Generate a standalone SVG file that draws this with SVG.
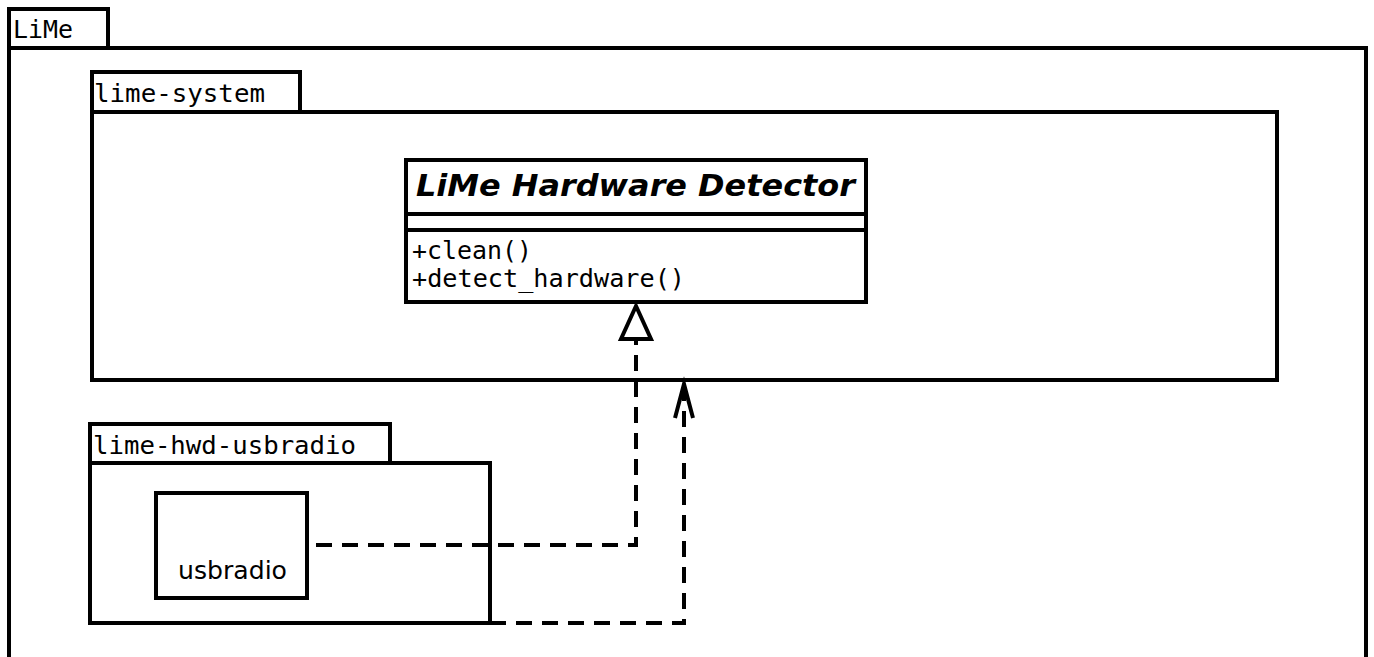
<svg xmlns="http://www.w3.org/2000/svg" width="1374" height="657" viewBox="0 0 1374 657">
<style>
.box{fill:#fff;stroke:#000;stroke-width:4}
.mono{font-family:"DejaVu Sans Mono","Liberation Mono",monospace;font-size:25px;fill:#000}
.sans{font-family:"DejaVu Sans","Liberation Sans",sans-serif;font-size:25px;fill:#000}
.title{font-family:"DejaVu Sans","Liberation Sans",sans-serif;font-size:30px;font-weight:bold;font-style:italic;fill:#000}
.dash{fill:none;stroke:#000;stroke-width:4;stroke-dasharray:16 10}
.solid{fill:none;stroke:#000;stroke-width:4}
</style>
<rect width="1374" height="657" fill="#fff"/>
<g id="pkg-lime">
<rect class="box" x="9" y="9" width="99" height="39"/>
<rect class="box" x="9" y="48" width="1357" height="640"/>
<text class="mono" x="13" y="38" textLength="60" lengthAdjust="spacingAndGlyphs">LiMe</text>
</g>
<g id="pkg-lime-system">
<rect class="box" x="92" y="72" width="208" height="40"/>
<rect class="box" x="92" y="112" width="1185" height="268"/>
<text class="mono" x="94" y="102" textLength="171" lengthAdjust="spacingAndGlyphs">lime-system</text>
</g>
<g id="class-detector">
<rect class="box" x="406" y="160" width="460" height="142"/>
<line class="solid" x1="406" y1="214" x2="866" y2="214"/>
<line class="solid" x1="406" y1="230" x2="866" y2="230"/>
<text class="title" x="416" y="196" textLength="439" lengthAdjust="spacingAndGlyphs">LiMe Hardware Detector</text>
<text class="mono" x="412" y="259" textLength="120" lengthAdjust="spacingAndGlyphs">+clean()</text>
<text class="mono" x="412" y="287" textLength="273" lengthAdjust="spacingAndGlyphs">+detect_hardware()</text>
</g>
<g id="pkg-lime-hwd-usbradio">
<rect class="box" x="90" y="424" width="300" height="39"/>
<rect class="box" x="90" y="463" width="400" height="160"/>
<text class="mono" x="93" y="454" textLength="263" lengthAdjust="spacingAndGlyphs">lime-hwd-usbradio</text>
</g>
<g id="comp-usbradio">
<rect class="box" x="156" y="493" width="151" height="105"/>
<text class="sans" x="178" y="579" textLength="109" lengthAdjust="spacingAndGlyphs">usbradio</text>
</g>
<g id="connectors">
<polyline class="dash" points="316,545 636,545 636,339"/>
<polygon class="box" points="636,306 621,339 651,339"/>
<polyline class="dash" points="490,623 684,623 684,388"/>
<polyline class="solid" points="675,418 684,384 693,418" stroke-linejoin="miter"/>
</g>
</svg>
